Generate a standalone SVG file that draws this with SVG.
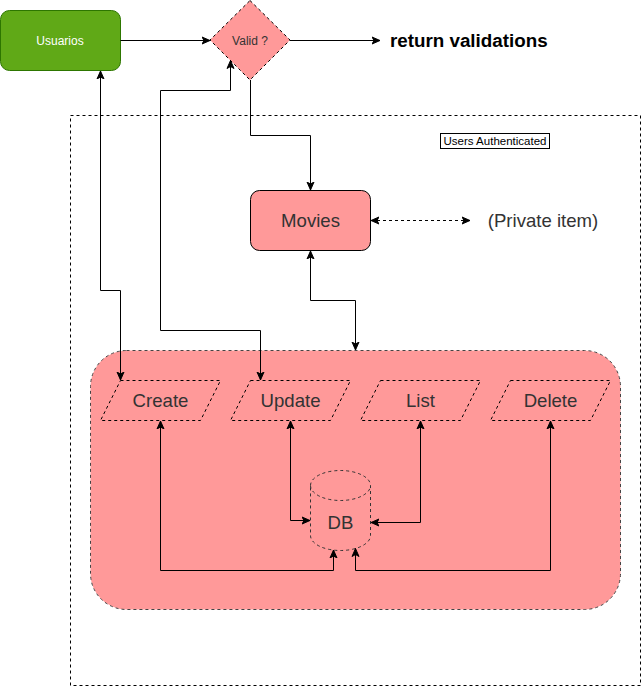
<svg xmlns="http://www.w3.org/2000/svg" width="641" height="686" viewBox="0 0 641 686">
<defs>
<style>
text{font-family:"Liberation Sans",Arial,sans-serif;}
.dash{stroke-dasharray:3 3;}
.pink{fill:#FF9999;}
.edge{fill:none;stroke:#000;stroke-width:1;}
.lbl{font-size:18.6px;fill:#333333;text-anchor:middle;dominant-baseline:central;}
.sm{font-size:12px;text-anchor:middle;dominant-baseline:central;}
</style>
<marker id="ar" viewBox="0 -5 10 10" refX="8" refY="0" markerWidth="10" markerHeight="10" markerUnits="userSpaceOnUse" orient="auto-start-reverse">
<path d="M0,-3.5 L8,0 L0,3.5 L2,0 Z" fill="#000" stroke="#000" stroke-width="1"/>
</marker>
</defs>
<rect width="641" height="686" fill="#fff"/>

<g id="authenticated-area">
<rect x="70.5" y="115.5" width="570" height="570" fill="none" stroke="#000" class="dash"/>
<rect x="440.5" y="133.5" width="109" height="15" fill="#fff" stroke="#000"/>
<text x="495" y="141" class="sm" style="font-size:11.5px" fill="#000">Users Authenticated</text>
</g>

<g id="usuarios">
<rect x="0.5" y="10.5" width="120" height="60" rx="9" fill="#60A917" stroke="#2D7600"/>
<text x="60" y="40.5" class="sm" fill="#fff">Usuarios</text>
</g>

<g id="valid">
<polygon points="250,0.5 290,40 250,80 210,40" class="pink dash" stroke="#000"/>
<text x="250" y="40.5" class="sm" fill="#333">Valid ?</text>
</g>

<g id="return-validations">
<text x="390" y="40.5" font-size="18.8" font-weight="bold" dominant-baseline="central" fill="#000">return validations</text>
</g>

<g id="movies">
<rect x="250.5" y="190.5" width="120" height="60" rx="9" class="pink" stroke="#000"/>
<text x="310.5" y="220.5" class="lbl">Movies</text>
</g>

<g id="private-item">
<text x="543" y="220.5" class="lbl">(Private item)</text>
</g>

<g id="container">
<rect x="90.5" y="350.5" width="530" height="259" rx="36" class="pink dash" stroke="#444"/>
</g>

<g id="create">
<polygon points="120.5,380.5 220.5,380.5 200.5,420.5 100.5,420.5" class="pink dash" stroke="#000"/>
<text x="160.5" y="400.5" class="lbl">Create</text>
</g>
<g id="update">
<polygon points="250.5,380.5 350.5,380.5 330.5,420.5 230.5,420.5" class="pink dash" stroke="#000"/>
<text x="290.5" y="400.5" class="lbl">Update</text>
</g>
<g id="list">
<polygon points="380.5,380.5 480.5,380.5 460.5,420.5 360.5,420.5" class="pink dash" stroke="#000"/>
<text x="420.5" y="400.5" class="lbl">List</text>
</g>
<g id="delete">
<polygon points="510.5,380.5 610.5,380.5 590.5,420.5 490.5,420.5" class="pink dash" stroke="#000"/>
<text x="550.5" y="400.5" class="lbl">Delete</text>
</g>

<g id="db">
<path d="M310.5,485.5 A30,15 0 0 1 370.5,485.5 V535.5 A30,15 0 0 1 310.5,535.5 Z" class="pink dash" stroke="#333"/>
<path d="M310.5,485.5 A30,15 0 0 0 370.5,485.5" fill="none" stroke="#333" class="dash"/>
<text x="340.5" y="522.5" class="lbl">DB</text>
</g>

<g id="connectors">
<path class="edge" d="M120.5,40.5 H210" marker-end="url(#ar)"/>
<path class="edge" d="M290,40.5 H380" marker-end="url(#ar)"/>
<path class="edge" d="M250.5,80 V135.5 H310.5 V190" marker-end="url(#ar)"/>
<path class="edge" d="M100.5,71 V290.5 H120.5 V380" marker-start="url(#ar)" marker-end="url(#ar)"/>
<path class="edge" d="M230.5,60.5 V90.5 H160.5 V330.5 H260.5 V380" marker-start="url(#ar)" marker-end="url(#ar)"/>
<path class="edge" d="M310.5,251 V300.5 H355.5 V350" marker-start="url(#ar)" marker-end="url(#ar)"/>
<path class="edge dash" d="M371,220.5 H470" marker-start="url(#ar)" marker-end="url(#ar)"/>
<path class="edge" d="M160.5,421 V570.5 H333.5 V550" marker-start="url(#ar)" marker-end="url(#ar)"/>
<path class="edge" d="M290.5,421 V520.5 H310" marker-start="url(#ar)" marker-end="url(#ar)"/>
<path class="edge" d="M420.5,421 V522.5 H371" marker-start="url(#ar)" marker-end="url(#ar)"/>
<path class="edge" d="M550.5,421 V570.5 H355.5 V548.5" marker-start="url(#ar)" marker-end="url(#ar)"/>
</g>
</svg>
